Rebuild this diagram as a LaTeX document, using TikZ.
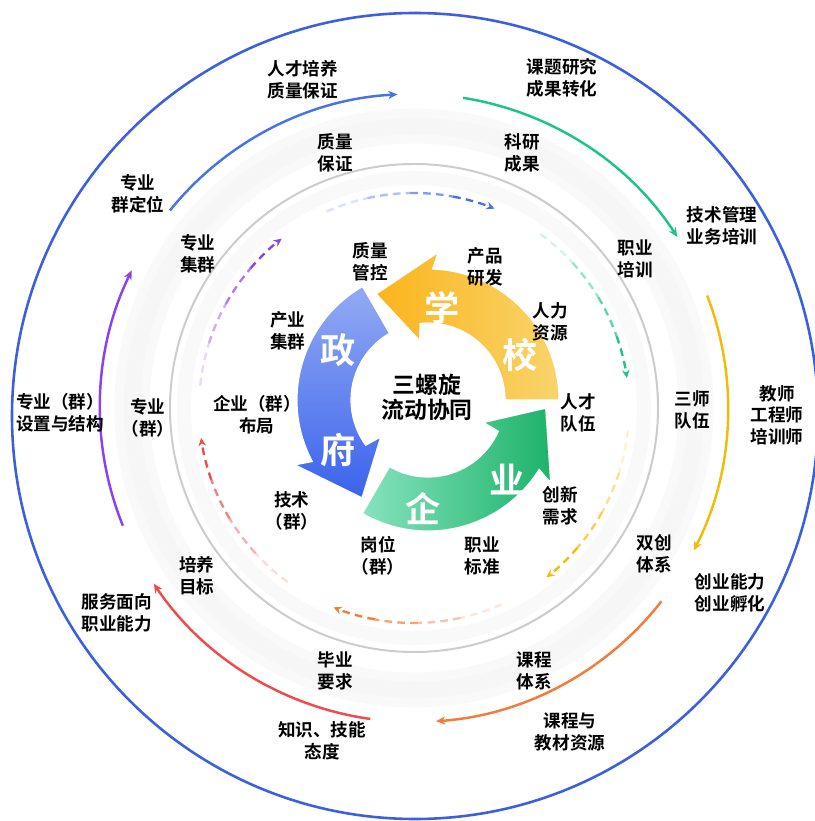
\documentclass[tikz,border=0pt]{standalone}
\usepackage{fontspec}
\newfontfamily\cjk{Noto Sans CJK SC}[BoldFont={Noto Sans CJK SC Bold}]
\usetikzlibrary{arrows.meta}
\definecolor{ringblue}{HTML}{3C5FDF}
\definecolor{fblue}{HTML}{4A72E8}
\definecolor{fgreen}{HTML}{1CC48B}
\definecolor{fyellow}{HTML}{F5BA0A}
\definecolor{forange}{HTML}{F47B3B}
\definecolor{fred}{HTML}{EE4B4B}
\definecolor{fpurple}{HTML}{8B42EE}
\definecolor{xuedark}{HTML}{FBB41C}
\definecolor{xuelight}{HTML}{F8D46C}
\definecolor{zflight}{HTML}{93AAF3}
\definecolor{zfdark}{HTML}{3B63EC}
\definecolor{qylight}{HTML}{86E2BE}
\definecolor{qydark}{HTML}{1DB36A}
\newcommand{\helix}[2]{%
  \shadedraw[#2,draw=white,line width=1pt] ({#1}:131) arc[start angle=#1,end angle=#1+88,radius=131]
    -- ({#1+86}:148) -- ({#1+116}:118) -- ({#1+98}:60) -- ({#1+96}:77)
    arc[start angle=#1+96,end angle=#1,radius=77] -- cycle;}
\newcommand{\flowdash}[2]{%
  \foreach \k [evaluate=\k as \op using 0.2+0.25*\k] in {0,1,2}
    \draw[dashflow,#1,opacity=\op] ({#2+46-11.5*\k}:215) arc[start angle=#2+46-11.5*\k,end angle=#2+34.5-11.5*\k,radius=215];
  \draw[dashflow,#1,-{Stealth[length=7pt,width=6.5pt]}] ({#2+11.5}:215) arc[start angle=#2+11.5,end angle=#2,radius=215];}
\newcommand{\flowarc}[2]{%
  \draw[flow,#1] ({#2+48}:314) arc[start angle=#2+48,end angle=#2,radius=314];}

\begin{document}
\begin{tikzpicture}[x=0.03cm,y=0.03cm,
    lbl/.style={font=\fontsize{15}{18.5}\selectfont\cjk\bfseries,align=center,inner sep=0pt},
    ctr/.style={font=\fontsize{19.5}{21.5}\selectfont\cjk\bfseries,align=center,inner sep=0pt},
    big/.style={font=\fontsize{30}{30}\selectfont\cjk\bfseries,text=white,inner sep=0pt},
    flow/.style={line width=2.1pt,-{Stealth[length=8pt,width=7pt]}},
    dashflow/.style={line width=2pt,dash pattern=on 6.5pt off 4.5pt}]
  \useasboundingbox (-414,-413) rectangle (400,408);
  \draw[black!2.5,line width=30pt] (0,0) circle[radius=282];
  \draw[black!3.5,line width=14pt] (0,0) circle[radius=282];
  \draw[black!2.5,line width=12pt] (0,0) circle[radius=230];
  \draw[black!20,line width=1.7pt] (0,0) circle[radius=244];
  \draw[ringblue,line width=2.2pt] (1,-8) circle[radius=403];

  \flowarc{fblue}{93}
  \flowarc{fgreen}{33}
  \flowarc{fyellow}{-27}
  \flowarc{forange}{-86}
  \flowarc{fred}{-146}
  \flowarc{fpurple}{154}

  \flowdash{fblue}{68}
  \flowdash{fgreen}{8}
  \flowdash{fyellow}{-52}
  \flowdash{forange}{-112}
  \flowdash{fred}{188}
  \flowdash{fpurple}{128}

  \begin{scope}[shift={(14,8)}]
    \helix{120}{top color=zflight,bottom color=zfdark}
    \helix{240}{left color=qylight,right color=qydark}
    \helix{0}{left color=xuedark,right color=xuelight}
  \end{scope}

  \node[big] (xue) at (28,100) {学};
  \node[big] (xiao) at (106,53) {校};
  \node[big] (zheng) at (-76,58) {政};
  \node[big] (fu) at (-76,-42) {府};
  \node[big] (qi) at (9,-100) {企};
  \node[big] (ye) at (93,-72) {业};
  \node[ctr] (slx) at (13,11) {三螺旋\\流动协同};

  \node[lbl] (zlgk) at (-44,146) {质量\\管控};
  \node[lbl] (cpyf) at (71,141) {产品\\研发};
  \node[lbl] (rlzy) at (136,86) {人力\\资源};
  \node[lbl] (rcdw) at (164,-5) {人才\\队伍};
  \node[lbl] (cxxq) at (146,-98) {创新\\需求};
  \node[lbl] (zybz) at (68,-148) {职业\\标准};
  \node[lbl] (gwq) at (-36,-148) {岗位\\（群）};
  \node[lbl] (jsq) at (-122,-103) {技术\\（群）};
  \node[lbl] (qybj) at (-157,-7) {企业（群）\\布局};
  \node[lbl] (cyjq) at (-126,77) {产业\\集群};

  \node[lbl] (zlbz) at (-79,255) {质量\\保证};
  \node[lbl] (kycg) at (108,255) {科研\\成果};
  \node[lbl] (zypx) at (221,149) {职业\\培训};
  \node[lbl] (ssdw) at (278,-2) {三师\\队伍};
  \node[lbl] (sctx) at (240,-146) {双创\\体系};
  \node[lbl] (kctx) at (120,-263) {课程\\体系};
  \node[lbl] (byyq) at (-79,-263) {毕业\\要求};
  \node[lbl] (pymb) at (-217,-168) {培养\\目标};
  \node[lbl] (zyq) at (-266,-10) {专业\\（群）};
  \node[lbl] (zyjq) at (-216,154) {专业\\集群};

  \node[lbl] (rcpy) at (-111,328) {人才培养\\质量保证};
  \node[lbl] (ktyj) at (148,330) {课题研究\\成果转化};
  \node[lbl] (jsgl) at (308,182) {技术管理\\业务培训};
  \node[lbl] (jspx) at (363,-7) {教师\\工程师\\培训师};
  \node[lbl] (cynl) at (316,-185) {创业能力\\创业孵化};
  \node[lbl] (kcjc) at (156,-324) {课程与\\教材资源};
  \node[lbl] (zsjn) at (-92,-333) {知识、技能\\态度};
  \node[lbl] (fwmx) at (-297,-205) {服务面向\\职业能力};
  \node[lbl] (zysz) at (-354,-5) {专业（群）\\设置与结构};
  \node[lbl] (zydw) at (-276,214) {专业\\群定位};
\end{tikzpicture}
\end{document}
